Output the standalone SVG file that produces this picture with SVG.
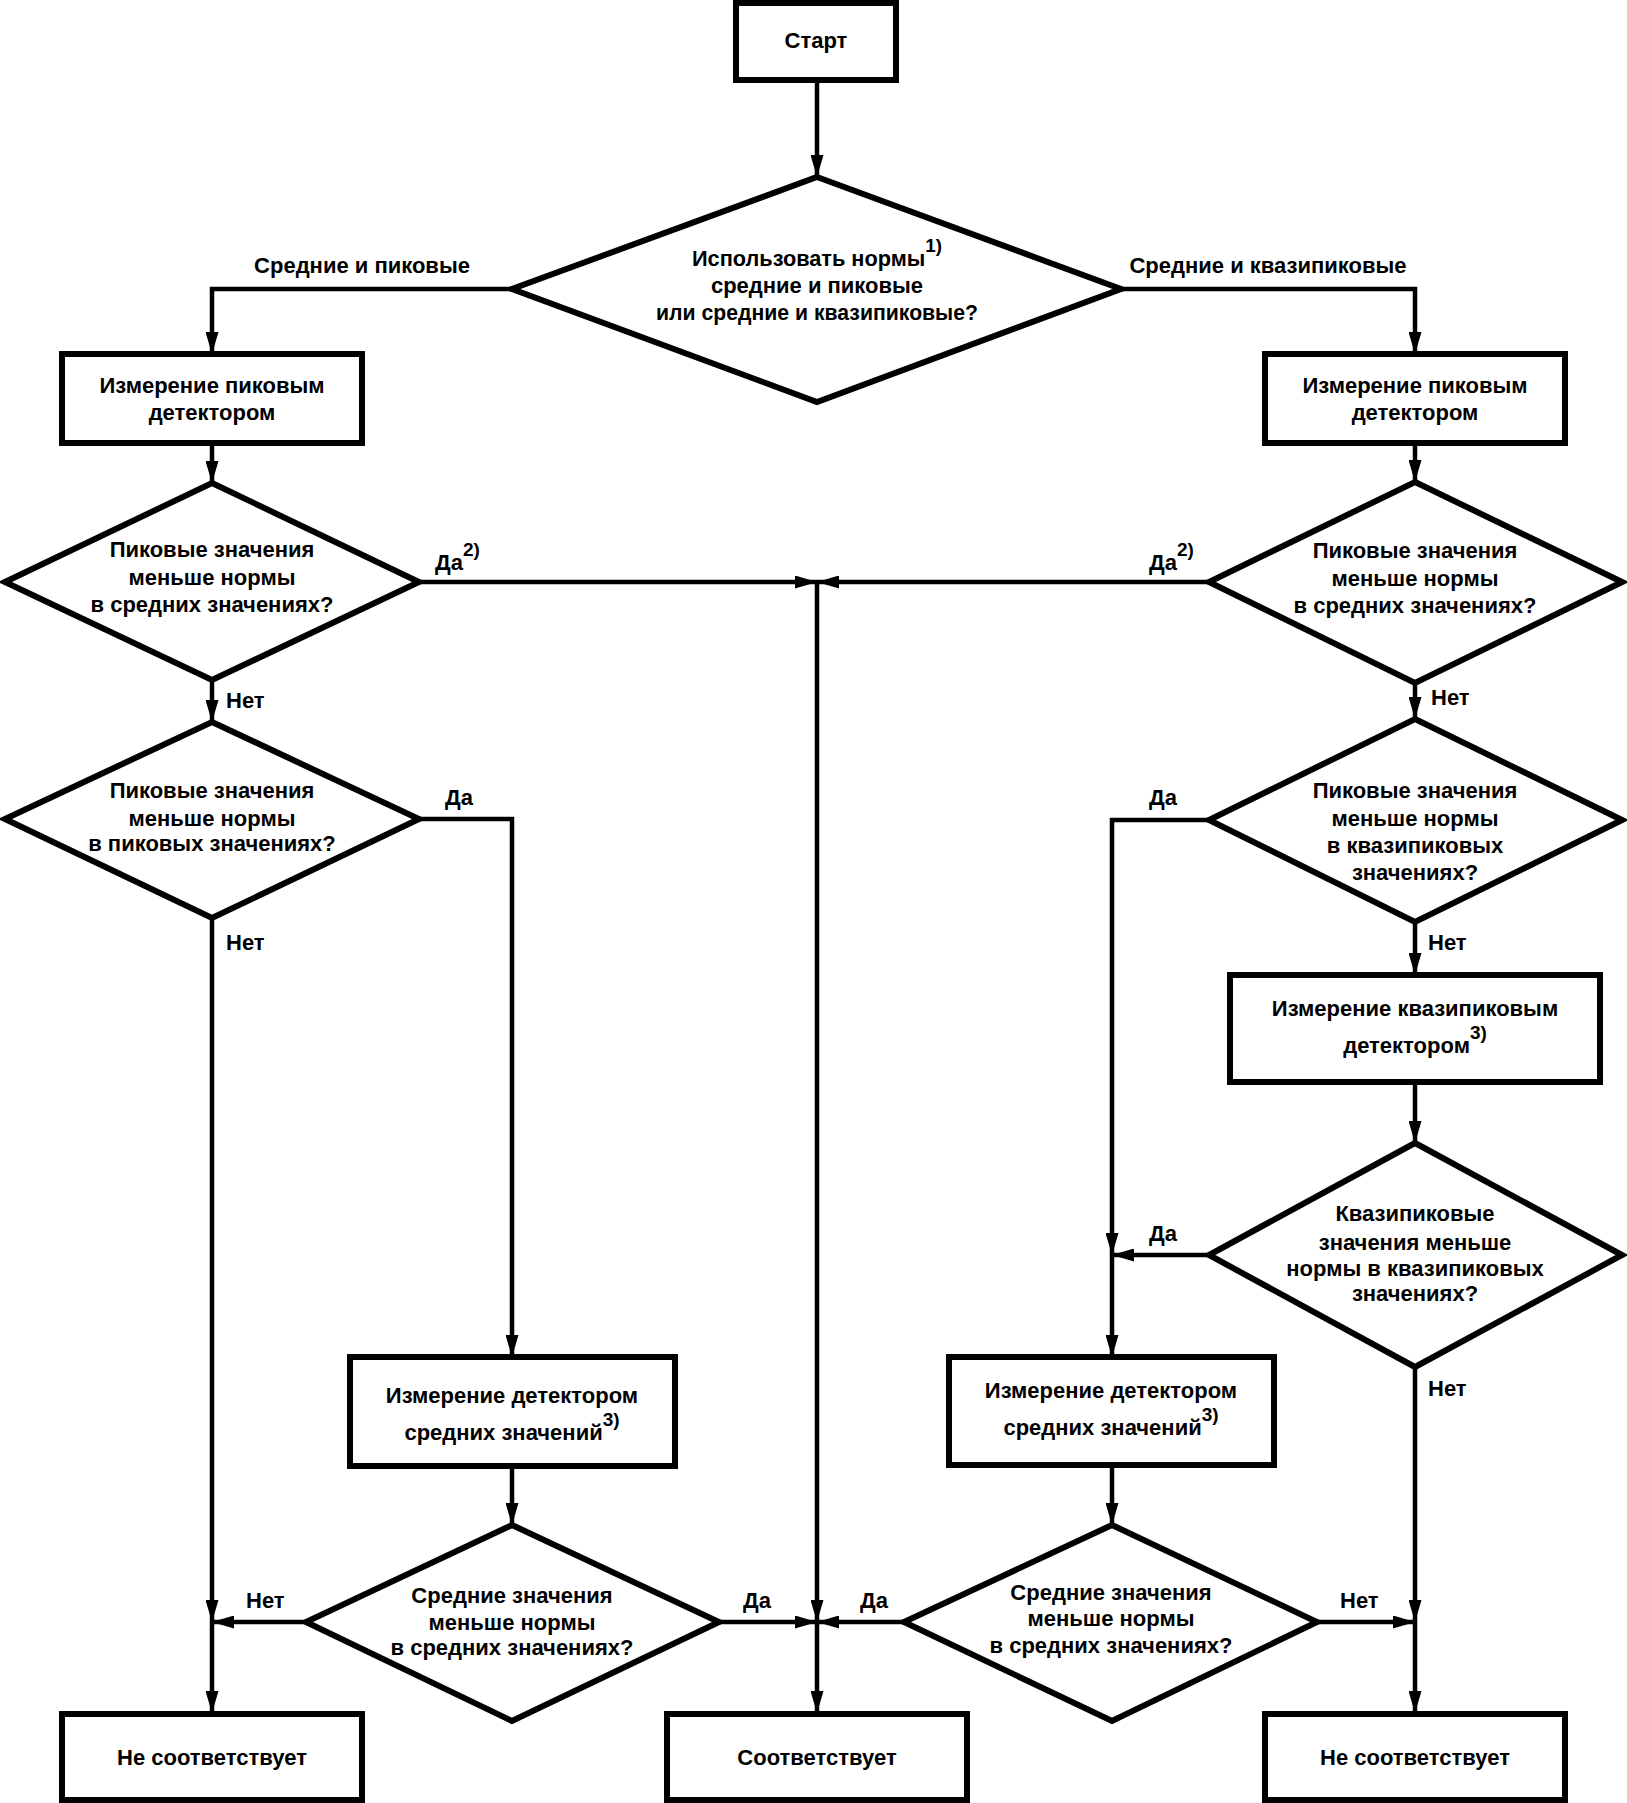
<svg xmlns="http://www.w3.org/2000/svg" width="1627" height="1803" viewBox="0 0 1627 1803">
<defs>
<style>
.n{fill:#fff;stroke:#000;stroke-width:6;stroke-linejoin:miter}
.c{fill:none;stroke:#000;stroke-width:4.5;marker-end:url(#ah)}
text{font-family:"Liberation Sans",Arial,sans-serif;font-weight:bold;font-size:22px;fill:#000}
.t{text-anchor:middle}
.l{text-anchor:start}
.s{font-size:19px}
</style>
<marker id="ah" viewBox="0 0 22 13" refX="22" refY="6.5" markerWidth="22" markerHeight="13" markerUnits="userSpaceOnUse" orient="auto">
<path d="M0,0 L22,6.5 L0,13 z" fill="#000"/>
</marker>
</defs>
<rect width="1627" height="1803" fill="#fff"/>

<g id="connectors">
<path class="c" d="M817,80 V177"/>
<path class="c" d="M512,289 H212 V354"/>
<path class="c" d="M1121,289 H1415 V354"/>
<path class="c" d="M212,443 V483"/>
<path class="c" d="M1415,443 V482"/>
<path class="c" d="M419,582 H817"/>
<path class="c" d="M1209,582 H817"/>
<path class="c" d="M817,582 V1622"/>
<path class="c" d="M817,1622 V1713"/>
<path class="c" d="M212,680 V722"/>
<path class="c" d="M1415,683 V719"/>
<path class="c" d="M419,819 H512 V1357"/>
<path class="c" d="M212,918 V1622"/>
<path class="c" d="M212,1622 V1713"/>
<path class="c" d="M1209,820 H1112 V1255"/>
<path class="c" d="M1112,1255 V1357"/>
<path class="c" d="M1415,922 V975"/>
<path class="c" d="M1415,1082 V1143"/>
<path class="c" d="M1209,1255 H1112"/>
<path class="c" d="M1415,1367 V1622"/>
<path class="c" d="M1415,1622 V1713"/>
<path class="c" d="M512,1466 V1525"/>
<path class="c" d="M1112,1465 V1525"/>
<path class="c" d="M306,1622 H212"/>
<path class="c" d="M719,1622 H817"/>
<path class="c" d="M904,1622 H817"/>
<path class="c" d="M1317,1622 H1415"/>
<text class="t" x="362" y="273">Средние и пиковые</text>
<text class="t" x="1268" y="273">Средние и квазипиковые</text>
<text class="l" x="435" y="570">Да<tspan class="s" dy="-14">2)</tspan></text>
<text class="l" x="1149" y="570">Да<tspan class="s" dy="-14">2)</tspan></text>
<text class="l" x="226" y="708">Нет</text>
<text class="l" x="1431" y="705">Нет</text>
<text class="l" x="445" y="805">Да</text>
<text class="l" x="1149" y="805">Да</text>
<text class="l" x="226" y="950">Нет</text>
<text class="l" x="1428" y="950">Нет</text>
<text class="l" x="1149" y="1241">Да</text>
<text class="l" x="1428" y="1396">Нет</text>
<text class="l" x="246" y="1608">Нет</text>
<text class="l" x="743" y="1608">Да</text>
<text class="l" x="860" y="1608">Да</text>
<text class="l" x="1340" y="1608">Нет</text>
</g>

<g id="start">
<rect class="n" x="736" y="3" width="160" height="77"/>
<text class="t" x="816" y="48">Старт</text>
</g>

<g id="d0">
<polygon class="n" points="817,177 1121,289 817,402 512,289"/>
<text class="t" x="817" y="266" textLength="250" lengthAdjust="spacingAndGlyphs">Использовать нормы<tspan class="s" dy="-14">1)</tspan></text>
<text class="t" x="817" y="293">средние и пиковые</text>
<text class="t" x="817" y="320" textLength="322" lengthAdjust="spacingAndGlyphs">или средние и квазипиковые?</text>
</g>

<g id="b1l">
<rect class="n" x="62" y="354" width="300" height="89"/>
<text class="t" x="212" y="393">Измерение пиковым</text>
<text class="t" x="212" y="420">детектором</text>
</g>

<g id="b1r">
<rect class="n" x="1265" y="354" width="300" height="89"/>
<text class="t" x="1415" y="393">Измерение пиковым</text>
<text class="t" x="1415" y="420">детектором</text>
</g>

<g id="d1l">
<polygon class="n" points="212,483 419,582 212,680 5,582"/>
<text class="t" x="212" y="557">Пиковые значения</text>
<text class="t" x="212" y="585">меньше нормы</text>
<text class="t" x="212" y="612">в средних значениях?</text>
</g>

<g id="d1r">
<polygon class="n" points="1415,482 1622,582 1415,683 1209,582"/>
<text class="t" x="1415" y="558">Пиковые значения</text>
<text class="t" x="1415" y="586">меньше нормы</text>
<text class="t" x="1415" y="613">в средних значениях?</text>
</g>

<g id="d2l">
<polygon class="n" points="212,722 419,819 212,918 5,819"/>
<text class="t" x="212" y="798">Пиковые значения</text>
<text class="t" x="212" y="826">меньше нормы</text>
<text class="t" x="212" y="851">в пиковых значениях?</text>
</g>

<g id="d2r">
<polygon class="n" points="1415,719 1622,820 1415,922 1209,820"/>
<text class="t" x="1415" y="798">Пиковые значения</text>
<text class="t" x="1415" y="826">меньше нормы</text>
<text class="t" x="1415" y="853">в квазипиковых</text>
<text class="t" x="1415" y="880">значениях?</text>
</g>

<g id="bq">
<rect class="n" x="1230" y="975" width="370" height="107"/>
<text class="t" x="1415" y="1016">Измерение квазипиковым</text>
<text class="t" x="1415" y="1053">детектором<tspan class="s" dy="-14">3)</tspan></text>
</g>

<g id="d3">
<polygon class="n" points="1415,1143 1622,1255 1415,1367 1209,1255"/>
<text class="t" x="1415" y="1221">Квазипиковые</text>
<text class="t" x="1415" y="1250">значения меньше</text>
<text class="t" x="1415" y="1276">нормы в квазипиковых</text>
<text class="t" x="1415" y="1301">значениях?</text>
</g>

<g id="bml">
<rect class="n" x="350" y="1357" width="325" height="109"/>
<text class="t" x="512" y="1403">Измерение детектором</text>
<text class="t" x="512" y="1440">средних значений<tspan class="s" dy="-14">3)</tspan></text>
</g>

<g id="bmr">
<rect class="n" x="949" y="1357" width="325" height="108"/>
<text class="t" x="1111" y="1398">Измерение детектором</text>
<text class="t" x="1111" y="1435">средних значений<tspan class="s" dy="-14">3)</tspan></text>
</g>

<g id="dbl">
<polygon class="n" points="512,1525 719,1622 512,1721 306,1622"/>
<text class="t" x="512" y="1603">Средние значения</text>
<text class="t" x="512" y="1630">меньше нормы</text>
<text class="t" x="512" y="1655">в средних значениях?</text>
</g>

<g id="dbr">
<polygon class="n" points="1112,1525 1317,1622 1112,1721 904,1622"/>
<text class="t" x="1111" y="1600">Средние значения</text>
<text class="t" x="1111" y="1626">меньше нормы</text>
<text class="t" x="1111" y="1653">в средних значениях?</text>
</g>

<g id="bl">
<rect class="n" x="62" y="1714" width="300" height="86"/>
<text class="t" x="212" y="1765">Не соответствует</text>
</g>

<g id="bc">
<rect class="n" x="667" y="1714" width="300" height="86"/>
<text class="t" x="817" y="1765">Соответствует</text>
</g>

<g id="br">
<rect class="n" x="1265" y="1714" width="300" height="86"/>
<text class="t" x="1415" y="1765">Не соответствует</text>
</g>
</svg>
